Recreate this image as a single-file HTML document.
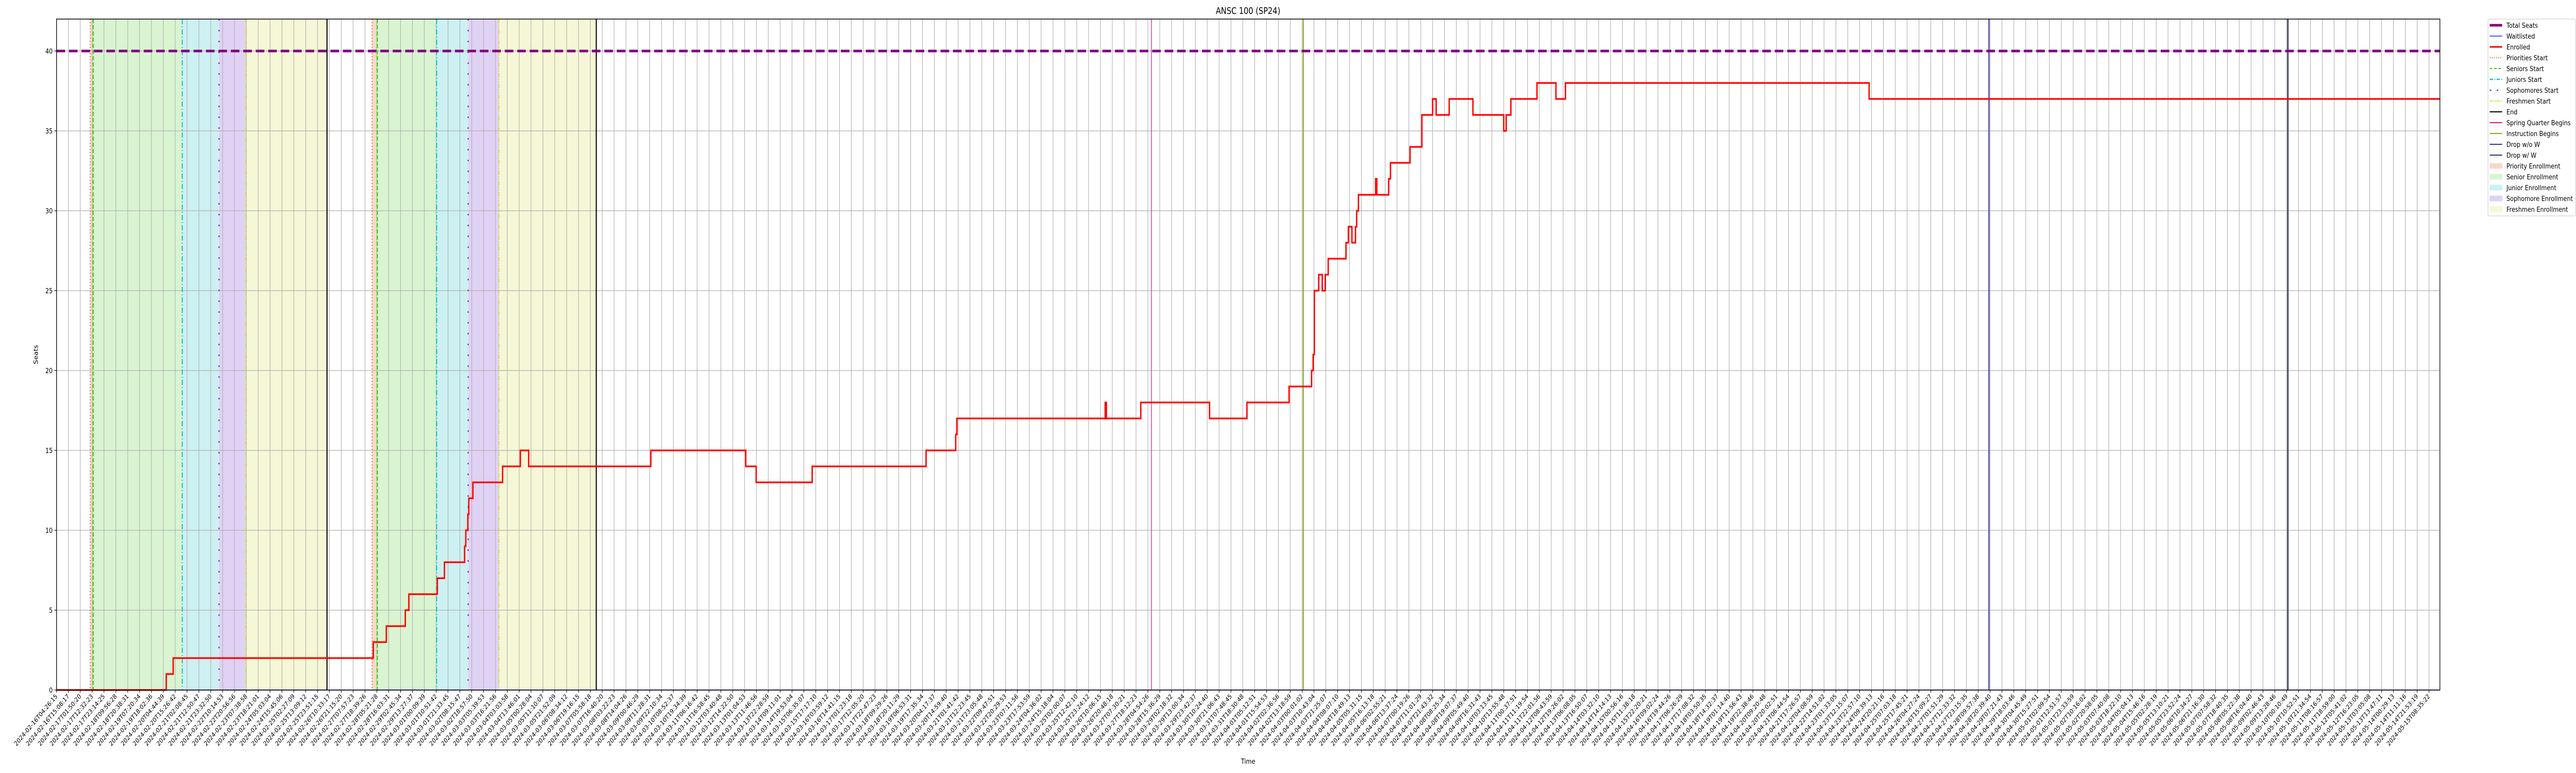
<!DOCTYPE html>
<html><head><meta charset="utf-8"><style>
html,body{margin:0;padding:0;background:#fff;overflow:hidden;width:100vw;height:100vh;}
svg{display:block;width:100vw;height:100vh;font-family:"DejaVu Sans","Liberation Sans",sans-serif;}
</style></head><body>
<svg id="chart" viewBox="0 0 6000 1500" preserveAspectRatio="none">
<rect x="0" y="0" width="6000" height="1500" fill="#fff"/>
<g id="fills"></g><g id="grid"></g><g id="events"></g><g id="series"></g><g id="axes"></g>
<text x="2907" y="27" font-size="17.5" text-anchor="middle">ANSC 100 (SP24)</text>
<text x="2907" y="1482" font-size="13.5" text-anchor="middle">Time</text>
<text x="0" y="0" font-size="13.5" text-anchor="middle" transform="translate(88,688) rotate(-90)">Seats</text>
<g id="legend"></g>
</svg>
<script>
const categoriesStart = "2024-02-16T04:26:15";
const categoriesEnd = "2024-05-15T08:35:22";
const tickCount = 201;
const enrolledX = [0,9.25,9.83,26.7,27.8,29.4,29.7,32.1,32.7,34.4,34.5,34.67,34.75,35.1,37.6,39.1,39.8,50.1,58.1,58.98,63.7,73.3,75.8,75.9,88.4,88.5,91.4,97.2,100.35,103.9,105.8,105.93,106.03,106.4,106.7,106.95,107.2,108.7,108.9,109.2,109.5,109.6,109.75,111.2,111.3,112.3,112.45,114.1,115.1,116.0,116.3,117.4,119.4,122.0,122.2,122.6,124.8,126.4,127.2,152.8];
const enrolledValues = [0,1,2,3,4,5,6,7,8,9,10,11,12,13,14,15,14,15,14,13,14,15,16,17,18,17,18,17,18,19,20,21,25,26,25,26,27,28,29,28,29,30,31,32,31,32,33,34,36,37,36,37,36,35,36,37,38,37,38,37];
const totalSeats = [40];
const waitlistedValues = [0];
const yTicks = [0,5,10,15,20,25,30,35,40];
const eventNames = ["priorities-start","seniors-start","juniors-start","sophomores-start","freshmen-start","end"];
const cycle1 = [2.84,3.09,10.6,13.7,15.95,22.8];
const cycle2 = [26.6,27.04,32.04,34.7,37.3,45.5];
const singleEvents = [92.3,105.1,162.9,188.1];

const NS="http://www.w3.org/2000/svg";
const L=131.7,R=5683,T=37,B=1339,XU=27.63,YMAX=42;
function xs(i){return L+i*XU;}
function ys(v){return B-(v/YMAX)*(B-T);}
function mk(tag,attrs,parent){const e=document.createElementNS(NS,tag);for(const k in attrs)e.setAttribute(k,attrs[k]);parent.appendChild(e);return e;}
const gF=document.getElementById('fills'),gG=document.getElementById('grid'),gE=document.getElementById('events'),gS=document.getElementById('series'),gA=document.getElementById('axes'),gL=document.getElementById('legend');

const fillColors=["#f7d9cb","#d9f4d1","#cdf0f2","#e0d2f4","#f6f7d6"];
const fillNames=["priority-enrollment","senior-enrollment","junior-enrollment","sophomore-enrollment","freshmen-enrollment"];
[cycle1,cycle2].forEach(c=>{for(let k=0;k<5;k++){const r=mk('rect',{x:xs(c[k]),y:T,width:xs(c[k+1])-xs(c[k]),height:B-T,fill:fillColors[k]},gF);

}});

const start=new Date(categoriesStart+"Z").getTime(),end=new Date(categoriesEnd+"Z").getTime();
function pad(n){return String(n).padStart(2,'0');}
for(let i=0;i<tickCount;i++){
 const x=xs(i);
 const gl=mk('line',{x1:x,x2:x,y1:T,y2:B,stroke:"#b0b0b0","stroke-width":1.3},gG);
 
 
 const tk=mk('line',{x1:x,x2:x,y1:B,y2:B+5,stroke:"#000","stroke-width":1.2},gA);
 
 
 const d=new Date(start+(end-start)*i/(tickCount-1));
 const s=d.getUTCFullYear()+"-"+pad(d.getUTCMonth()+1)+"-"+pad(d.getUTCDate())+"T"+pad(d.getUTCHours())+":"+pad(d.getUTCMinutes())+":"+pad(d.getUTCSeconds());
 const t=mk('text',{x:0,y:0,"font-size":12.5,"text-anchor":"end",transform:`translate(${x+3},${B+13}) rotate(-45)`},gA);
 t.textContent=s;
 
 
}
yTicks.forEach(v=>{const y=ys(v);
 const gl=mk('line',{x1:L,x2:R,y1:y,y2:y,stroke:"#b0b0b0","stroke-width":1.3},gG);
 
 
 const tk=mk('line',{x1:L-5,x2:L,y1:y,y2:y,stroke:"#000","stroke-width":1.2},gA);
 
 
 const t=mk('text',{x:L-9,y:y+5,"font-size":13.5,"text-anchor":"end"},gA);t.textContent=v;
 
 
});

const evStyles=[{c:"#ee6a2b",d:"2,4",w:2.2},{c:"#33cc11",d:"8,4",w:2.5},{c:"#11c8cc",d:"10,4,2,4",w:2.5},{c:"#6622dd",d:"3,18",w:2.5},{c:"#dddd22",d:"8,3,2,3,2,3",w:2},{c:"#000",d:"",w:2.5}];
[cycle1,cycle2].forEach(c=>c.forEach((v,k)=>{const st=evStyles[k];
 const l=mk('line',{x1:xs(v),x2:xs(v),y1:T,y2:B,stroke:st.c,"stroke-width":st.w,"stroke-dasharray":st.d},gE);
 
 }));
const sNames=["spring-quarter-begins-line","instruction-begins-line","drop-without-w-line","drop-with-w-line"];
const sCols=["#e0119b","#88aa11","#333399","#2a3a5a"],sW=[1.5,2.5,2.5,3];
singleEvents.forEach((v,k)=>{const l=mk('line',{x1:xs(v),x2:xs(v),y1:T,y2:B,stroke:sCols[k],"stroke-width":sW[k]},gE);
 
 });

const wl=mk('line',{x1:L,x2:R,y1:ys(waitlistedValues[0]),y2:ys(waitlistedValues[0]),stroke:"#2222ff","stroke-width":1.5},gS);


let d="M"+xs(enrolledX[0])+","+ys(enrolledValues[0]);
for(let i=1;i<enrolledX.length;i++){d+=" H"+xs(enrolledX[i])+" V"+ys(enrolledValues[i]);}
d+=" H"+R;
const ep=mk('path',{d:d,fill:"none",stroke:"#ff0000","stroke-width":3.2},gS);


const ts=mk('line',{x1:L,x2:R,y1:ys(totalSeats[0]),y2:ys(totalSeats[0]),stroke:"#800080","stroke-width":5,"stroke-dasharray":"20,9"},gS);



const fr=mk('rect',{x:L,y:T,width:R-L,height:B-T,fill:"none",stroke:"#000","stroke-width":1.5},gA);



const lb=mk('rect',{x:5795,y:37,width:204,height:382,rx:3,fill:"#fff",stroke:"#d0d0d0","stroke-width":1.2},gL);


const legendLabels=["Total Seats","Waitlisted","Enrolled","Priorities Start","Seniors Start","Juniors Start","Sophomores Start","Freshmen Start","End","Spring Quarter Begins","Instruction Begins","Drop w/o W","Drop w/ W","Priority Enrollment","Senior Enrollment","Junior Enrollment","Sophomore Enrollment","Freshmen Enrollment"];
const legendStyles=[["l","#800080",5,""],["l","#2222ff",1.5,""],["l","#ff0000",3,""],["l","#ee6a2b",2,"2,3"],["l","#33cc11",2,"6,4"],["l","#11c8cc",2.5,"8,3,2,3"],["l","#6622dd",2,"4,12"],["l","#dddd22",2,"6,2,2,2,2,2"],["l","#000",2,""],["l","#e0119b",2,""],["l","#88aa11",2,""],["l","#333399",2,""],["l","#2a3a5a",2,""],["r","#f7d9cb"],["r","#d9f4d1"],["r","#cdf0f2"],["r","#e0d2f4"],["r","#f6f7d6"]];
legendLabels.forEach((lab,i)=>{const cy=49+i*21,s=legendStyles[i];
 const g=mk('g',{},gL);
 
 
 if(s[0]==="l"){mk('line',{x1:5799,x2:5828,y1:cy,y2:cy,stroke:s[1],"stroke-width":s[2],"stroke-dasharray":s[3]},g);}
 else{mk('rect',{x:5799,y:cy-5,width:29,height:10,fill:s[1],stroke:s[1]},g);}
 const t=mk('text',{x:5838,y:cy+5,"font-size":13.5},g);t.textContent=lab;
});
</script>
</body></html>
